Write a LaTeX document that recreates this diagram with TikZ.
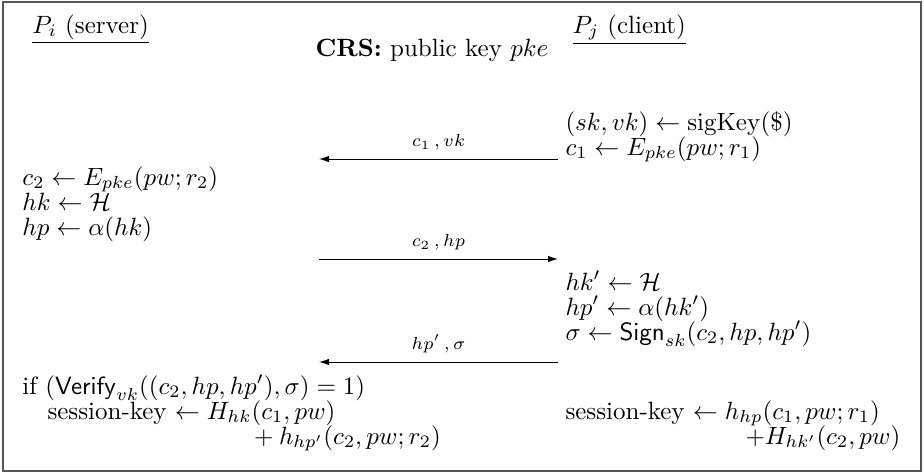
\documentclass[tikz,border=0pt]{standalone}
\usepackage{amsmath,amssymb}
\usepackage{tikz}
\usetikzlibrary{arrows.meta,calc,positioning}
\definecolor{FrameGray}{HTML}{555555}

\begin{document}
\begin{tikzpicture}[x=.4pt,y=-.4pt,line width=.4pt,
 every node/.style={inner sep=0pt,anchor=base west},>={Latex[length=4pt,width=2.6pt]},
 msglab/.style={font=\scriptsize,anchor=base,yshift=5pt}]
\useasboundingbox (0,0) rectangle (924,473);
\draw[FrameGray,line width=.6pt] (3,2) rectangle (921,471);
% parties and CRS
\node (srv) at (32,33) {\underline{$P_i$ (server)}};
\node (cli) at (572,33) {\underline{$P_j$ (client)}};
\node (crs) at (315,56) {\textbf{CRS:} public key $pke$};
% client, first flow
\node (sigkey) at (565,130) {$(sk,vk)\leftarrow\mathrm{sigKey}(\$)$};
\node (encone) at (565,155) {$c_1\leftarrow E_{pke}(pw;r_1)$};
% server
\node (enctwo) at (22,185) {$c_2\leftarrow E_{pke}(pw;r_2)$};
\node (hkS) at (22,210) {$hk\leftarrow\mathcal{H}$};
\node (hpS) at (22,235) {$hp\leftarrow\alpha(hk)$};
% client, second flow
\node (hkC) at (565,290) {$hk'\leftarrow\mathcal{H}$};
\node (hpC) at (565,315) {$hp'\leftarrow\alpha(hk')$};
\node (sgn) at (565,340) {$\sigma\leftarrow\mathsf{Sign}_{sk}(c_2,hp,hp')$};
% session keys
\node (vrf) at (22,394) {if $(\mathsf{Verify}_{vk}((c_2,hp,hp'),\sigma)=1)$};
\node (skS) at (47,419) {session-key $\leftarrow H_{hk}(c_1,pw)$};
\node (skSb) at (248,444) {${}+h_{hp'}(c_2,pw;r_2)$};
\node (skC) at (565,419) {session-key $\leftarrow h_{hp}(c_1,pw;r_1)$};
\node (skCb) at (745,444) {$+H_{hk'}(c_2,pw)$};
% flows
\foreach \i/\y/\dir/\txt in {1/159/<-/{$c_1\,,vk$},2/259/->/{$c_2\,,hp$},3/362/<-/{$hp'\,,\sigma$}}{
  \coordinate (l\i) at (319,\y); \coordinate (r\i) at (558,\y);
  \draw[\dir] (l\i) -- node[msglab] (m\i) {\txt} (r\i);
}
\end{tikzpicture}
\end{document}
